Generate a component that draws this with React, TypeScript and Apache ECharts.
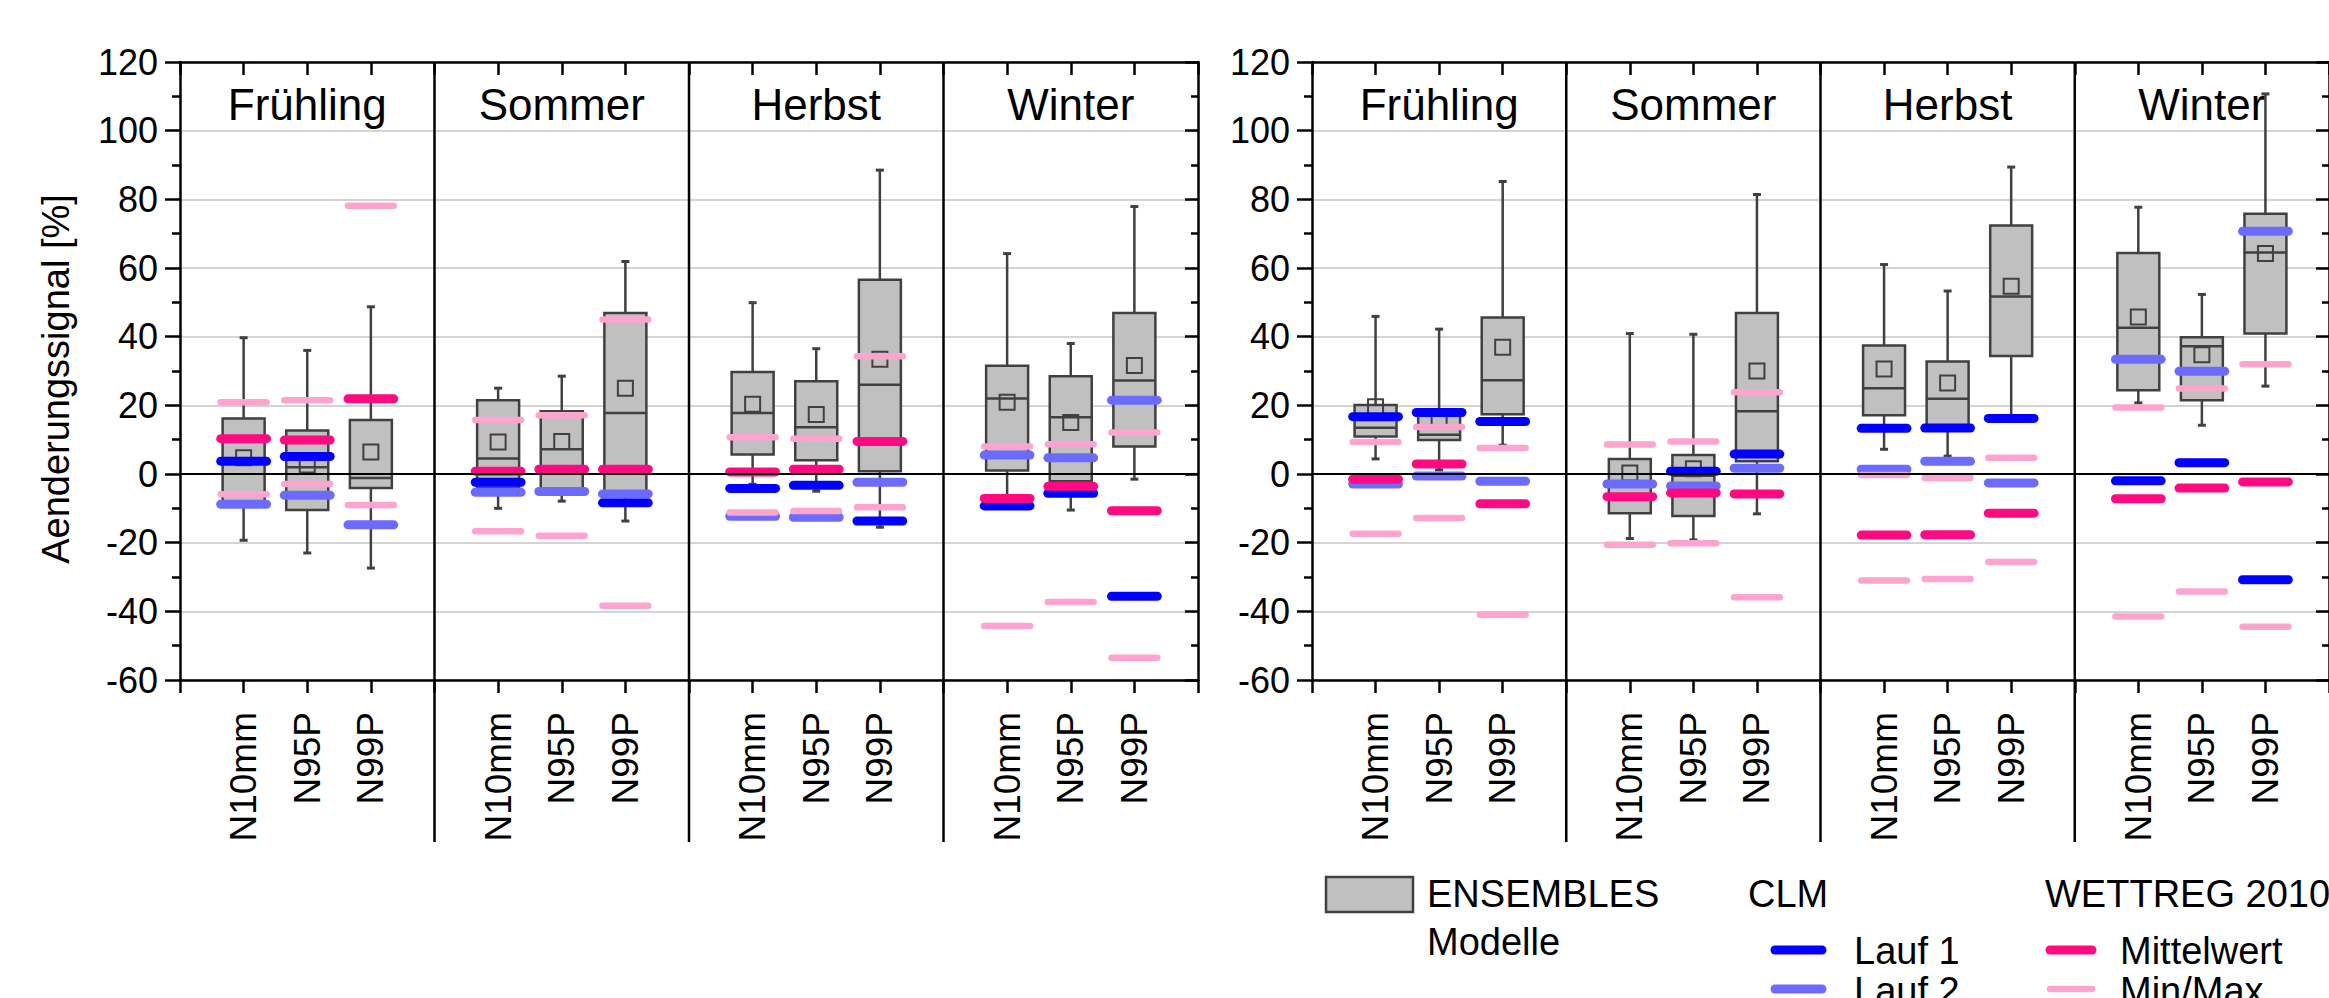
import React, { useEffect, useRef } from "react";
import * as echarts from "echarts";

const FONT = '"Liberation Sans", Arial, Helvetica, sans-serif';

const seasons = ["Frühling", "Sommer", "Herbst", "Winter"];
const indicators = ["N10mm", "N95P", "N99P"];

// ENSEMBLES box statistics per season/indicator: [min, q1, median, q3, max, mean]
const leftBoxes = [
  [-19.3, -8, 3, 16.2, 39.7, 4.7],
  [-23, -10.5, 2, 12.7, 36, 2.6],
  [-27.4, -4.1, -1.2, 15.7, 48.7, 6.4],
  [-10, -4, 4.5, 21.5, 25, 9.3],
  [-7.9, -4.4, 7.2, 18.3, 28.5, 9.5],
  [-13.7, -5, 17.8, 46.9, 61.9, 25],
  [-3, 5.7, 17.8, 29.7, 49.9, 20.3],
  [-5, 4, 13.6, 27, 36.5, 17.3],
  [-15.5, 0.8, 26, 56.6, 88.5, 33.4],
  [-7, 1, 22, 31.5, 64.2, 20.9],
  [-10.5, -2.1, 16.5, 28.5, 38, 15],
  [-1.5, 8, 27.2, 46.9, 77.9, 31.6],
];
const rightBoxes = [
  [4.4, 10.9, 13.5, 20.1, 45.9, 19.6],
  [1.2, 9.9, 11.4, 17.5, 42.2, 15.5],
  [8.4, 17.4, 27.3, 45.6, 85.2, 36.9],
  [-18.8, -11.4, -3, 4.4, 40.9, 0.3],
  [-19.2, -12.2, -0.5, 5.5, 40.7, 1.5],
  [-11.6, 3.7, 18.3, 46.9, 81.4, 30],
  [7.2, 17.1, 25, 37.4, 61, 30.6],
  [5.2, 14, 21.9, 32.8, 53.3, 26.5],
  [17, 34.4, 51.7, 72.4, 89.4, 54.7],
  [20.7, 24.4, 42.6, 64.4, 77.7, 45.7],
  [14.2, 21.5, 37.2, 39.8, 52.3, 34.7],
  [25.6, 40.9, 64.5, 75.8, 110.7, 64.2],
];

// CLM runs and WETTREG 2010 values (null = not visible)
const leftLauf1 = [3.7, 5.1, null, -2.4, null, -8.4, -4.2, -3.3, -13.7, -9.3, -5.6, -35.6];
const leftLauf2 = [-8.8, -6.2, -14.8, -5.3, -5.1, -5.8, -12.3, -12.6, -2.4, 5.5, 4.7, 21.5];
const leftMittel = [10.3, 9.9, 21.9, 0.8, 1.4, 1.4, 0.6, 1.4, 9.5, -7.1, -3.6, -10.7];
const leftMax = [20.9, 21.5, 78.1, 15.7, 17.1, 45, 10.7, 10.3, 34.3, 8, 8.7, 12.1];
const leftMin = [-5.9, -2.9, -9, -16.7, -18, -38.4, -11.2, -10.8, -9.7, -44.3, -37.3, -53.5];

const rightLauf1 = [16.7, 17.9, 15.3, null, 0.8, 5.8, 13.3, 13.4, 16.2, -2, 3.3, -30.8];
const rightLauf2 = [-2.9, -0.6, -2.1, -2.9, -3.5, 1.7, 1.4, 3.7, -2.6, 33.4, 29.9, 70.7];
const rightMittel = [-1.5, 2.9, -8.7, -6.6, -5.5, -5.8, -17.8, -17.7, -11.4, -7.2, -4.1, -2.3];
const rightMax = [9.3, 13.7, 7.6, 8.6, 9.5, 23.8, -0.3, -1.2, 4.7, 19.4, 24.9, 32];
const rightMin = [-17.4, -12.8, -41, -20.6, -20.2, -35.9, -31, -30.6, -25.6, -41.5, -34.2, -44.5];

const C_LAUF1 = "#0000ff";
const C_LAUF2 = "#6b6bff";
const C_MITTEL = "#ff0a80";
const C_MINMAX = "#ffa3cf";
const C_BOX = "#c0c0c0";
const C_EDGE = "#404040";

const positions = seasons.flatMap((_, si) => indicators.map((__, ii) => si * 4 + ii + 1));

function buildSeries(g: number, boxes: number[][], l1: (number | null)[], l2: (number | null)[], mw: (number | null)[], mx: (number | null)[], mn: (number | null)[]) {
  const markerSeries = (vals: (number | null)[], color: string, lw: number) => ({
    type: "custom",
    xAxisIndex: g,
    yAxisIndex: g,
    silent: true,
    data: vals.map((v, i) => (v === null ? null : [positions[i], v])).filter((d) => d !== null),
    renderItem: (params: any, api: any) => {
      const p = api.coord([api.value(0), api.value(1)]);
      const hl = api.size([0.72, 0])[0] / 2;
      return {
        type: "line",
        shape: { x1: p[0] - hl, y1: p[1], x2: p[0] + hl, y2: p[1] },
        style: { stroke: color, lineWidth: lw, lineCap: "round" },
      };
    },
  });

  return [
    {
      type: "custom",
      xAxisIndex: g,
      yAxisIndex: g,
      clip: false,
      silent: true,
      data: [[4], [8], [12]],
      renderItem: (params: any, api: any) => {
        const x = api.value(0);
        const top = api.coord([x, 120]);
        const bot = api.coord([x, -60]);
        return {
          type: "line",
          shape: { x1: top[0], y1: top[1], x2: bot[0], y2: bot[1] + 162 },
          style: { stroke: "#000", lineWidth: 2.5 },
        };
      },
    },
    {
      type: "custom",
      xAxisIndex: g,
      yAxisIndex: g,
      clip: false,
      silent: true,
      data: seasons.map((_, i) => [i * 4 + 2, 107.5, i]),
      renderItem: (params: any, api: any) => {
        const p = api.coord([api.value(0), api.value(1)]);
        return {
          type: "text",
          x: p[0],
          y: p[1],
          style: {
            text: seasons[api.value(2)],
            fontSize: 44,
            fontFamily: FONT,
            fill: "#000",
            align: "center",
            verticalAlign: "middle",
          },
        };
      },
    },
    {
      type: "custom",
      xAxisIndex: g,
      yAxisIndex: g,
      silent: true,
      data: boxes.map((b, i) => [positions[i], ...b]),
      renderItem: (params: any, api: any) => {
        const x = api.value(0);
        const c = (v: number) => api.coord([x, v]);
        const px = c(api.value(3))[0];
        const yMin = c(api.value(1))[1];
        const yQ1 = c(api.value(2))[1];
        const yMed = c(api.value(3))[1];
        const yQ3 = c(api.value(4))[1];
        const yMax = c(api.value(5))[1];
        const yMean = c(api.value(6))[1];
        const hw = api.size([0.66, 0])[0] / 2;
        const ls = { stroke: C_EDGE, lineWidth: 2.5 };
        return {
          type: "group",
          children: [
            { type: "line", shape: { x1: px, y1: yMax, x2: px, y2: yQ3 }, style: ls },
            { type: "line", shape: { x1: px, y1: yQ1, x2: px, y2: yMin }, style: ls },
            { type: "line", shape: { x1: px - 4, y1: yMax, x2: px + 4, y2: yMax }, style: { stroke: C_EDGE, lineWidth: 3 } },
            { type: "line", shape: { x1: px - 4, y1: yMin, x2: px + 4, y2: yMin }, style: { stroke: C_EDGE, lineWidth: 3 } },
            {
              type: "rect",
              shape: { x: px - hw, y: yQ3, width: hw * 2, height: yQ1 - yQ3 },
              style: { fill: C_BOX, stroke: C_EDGE, lineWidth: 2.5 },
            },
            { type: "line", shape: { x1: px - hw, y1: yMed, x2: px + hw, y2: yMed }, style: ls },
            {
              type: "rect",
              shape: { x: px - 7.5, y: yMean - 7.5, width: 15, height: 15 },
              style: { fill: "none", stroke: C_EDGE, lineWidth: 2 },
            },
          ],
        };
      },
    },
    {
      type: "line",
      xAxisIndex: g,
      yAxisIndex: g,
      silent: true,
      symbol: "none",
      data: [
        [0, 0],
        [16, 0],
      ],
      lineStyle: { color: "#000", width: 2 },
    },
    markerSeries(l1, C_LAUF1, 9),
    markerSeries(l2, C_LAUF2, 9),
    markerSeries(mw, C_MITTEL, 9),
    markerSeries(mx, C_MINMAX, 6.5),
    markerSeries(mn, C_MINMAX, 6.5),
  ];
}

function bottomAxis(g: number) {
  return {
    type: "value",
    gridIndex: g,
    position: "bottom",
    min: 0,
    max: 16,
    interval: 1,
    axisLine: { show: true, onZero: false, lineStyle: { color: "#000", width: 2.5 } },
    axisTick: { show: true, inside: false, length: 13, lineStyle: { color: "#000", width: 2.5 } },
    axisLabel: {
      show: true,
      rotate: 90,
      margin: 32,
      fontSize: 37,
      fontFamily: FONT,
      color: "#000",
      formatter: (v: number) => (v % 4 === 0 ? "" : indicators[(v % 4) - 1]),
    },
    splitLine: { show: false },
  };
}

function topAxis(g: number) {
  return {
    type: "value",
    gridIndex: g,
    position: "top",
    min: 0,
    max: 16,
    interval: 1,
    axisLine: { show: true, onZero: false, lineStyle: { color: "#000", width: 2.5 } },
    axisTick: { show: true, inside: true, length: 13, lineStyle: { color: "#000", width: 2.5 } },
    axisLabel: { show: false },
    splitLine: { show: false },
  };
}

function leftAxis(g: number) {
  return {
    type: "value",
    gridIndex: g,
    position: "left",
    min: -60,
    max: 120,
    interval: 20,
    axisLine: { show: true, onZero: false, lineStyle: { color: "#000", width: 2.5 } },
    axisTick: { show: true, inside: false, length: 15, lineStyle: { color: "#000", width: 2.5 } },
    minorTick: { show: true, splitNumber: 2, length: 8, lineStyle: { color: "#000", width: 2.5 } },
    axisLabel: { show: true, margin: 22, fontSize: 36, fontFamily: FONT, color: "#000" },
    splitLine: { show: true, lineStyle: { color: "#c6c6c6", width: 1.5 } },
  };
}

function rightAxis(g: number) {
  return {
    type: "value",
    gridIndex: g,
    position: "right",
    min: -60,
    max: 120,
    interval: 20,
    axisLine: { show: true, onZero: false, lineStyle: { color: "#000", width: 2.5 } },
    axisTick: { show: true, inside: true, length: 13, lineStyle: { color: "#000", width: 2.5 } },
    minorTick: { show: true, splitNumber: 2, length: 7, lineStyle: { color: "#000", width: 2.5 } },
    axisLabel: { show: false },
    splitLine: { show: false },
  };
}

function legendGraphics() {
  const txt = (text: string, x: number, y: number) => ({
    type: "text",
    x,
    y,
    style: { text, fontSize: 38, fontFamily: FONT, fill: "#000", align: "left", verticalAlign: "middle" },
  });
  const seg = (x1: number, x2: number, y: number, color: string, lw: number) => ({
    type: "line",
    shape: { x1, y1: y, x2, y2: y },
    style: { stroke: color, lineWidth: lw, lineCap: "round" },
  });
  return [
    {
      type: "text",
      x: 56,
      y: 379,
      rotation: Math.PI / 2,
      style: {
        text: "Aenderungssignal [%]",
        fontSize: 38,
        fontFamily: FONT,
        fill: "#000",
        align: "center",
        verticalAlign: "middle",
      },
    },
    {
      type: "rect",
      shape: { x: 1326, y: 877, width: 87, height: 35 },
      style: { fill: C_BOX, stroke: C_EDGE, lineWidth: 2.5 },
    },
    txt("ENSEMBLES", 1427, 894),
    txt("Modelle", 1427, 942),
    txt("CLM", 1748, 894),
    seg(1775, 1822, 950, C_LAUF1, 9),
    txt("Lauf 1", 1854, 951),
    seg(1775, 1822, 989, C_LAUF2, 9),
    txt("Lauf 2", 1854, 991),
    txt("WETTREG 2010", 2045, 894),
    seg(2050, 2092, 950, C_MITTEL, 9),
    txt("Mittelwert", 2120, 951),
    seg(2050, 2092, 989, C_MINMAX, 6.5),
    txt("Min/Max", 2120, 991),
  ];
}

export default function App() {
  const ref = useRef<HTMLDivElement>(null);
  useEffect(() => {
    if (!ref.current) return;
    const chart = echarts.init(ref.current, undefined, { renderer: "svg" });
    const option: any = {
      animation: false,
      backgroundColor: "#ffffff",
      textStyle: { fontFamily: FONT },
      grid: [
        { left: 180, top: 62, width: 1018, height: 618 },
        { left: 1312, top: 62, width: 1017, height: 618 },
      ],
      xAxis: [bottomAxis(0), bottomAxis(1), topAxis(0), topAxis(1)],
      yAxis: [leftAxis(0), leftAxis(1), rightAxis(0), rightAxis(1)],
      series: [
        ...buildSeries(0, leftBoxes, leftLauf1, leftLauf2, leftMittel, leftMax, leftMin),
        ...buildSeries(1, rightBoxes, rightLauf1, rightLauf2, rightMittel, rightMax, rightMin),
      ],
      graphic: legendGraphics(),
    };
    chart.setOption(option);
    return () => chart.dispose();
  }, []);
  return (
    <div
      ref={ref}
      style={{ position: "absolute", left: 0, top: 0, width: 2329, height: 998, background: "#fff" }}
    />
  );
}
